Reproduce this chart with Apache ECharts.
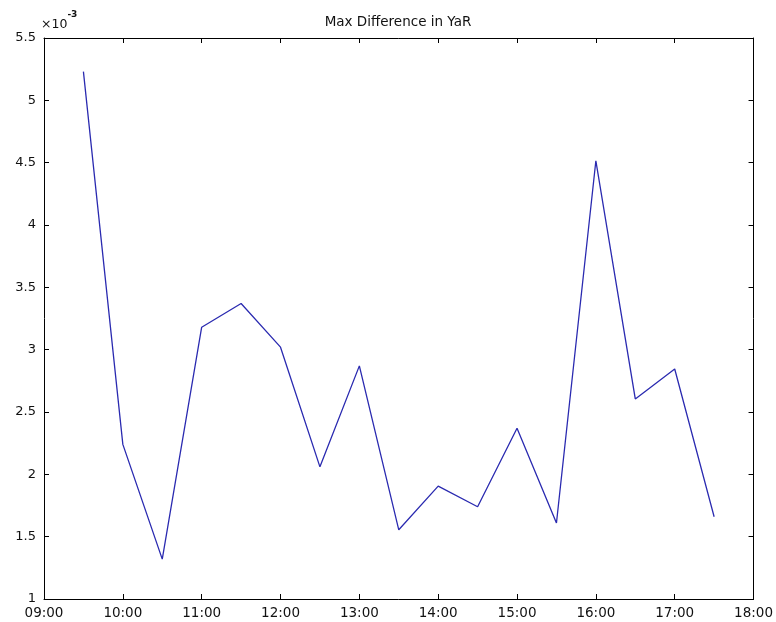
<!DOCTYPE html>
<html>
<head>
<meta charset="utf-8">
<script src="https://cdn.jsdelivr.net/npm/echarts@6/dist/echarts.min.js"></script>
<style>html,body{margin:0;padding:0;background:#fff;}#chart{width:776px;height:622px;}</style>
</head>
<body>
<div id="chart"></div>
<script>
const times = ["09:30","10:00","10:30","11:00","11:30","12:00","12:30","13:00","13:30","14:00","14:30","15:00","15:30","16:00","16:30","17:00","17:30"];
const maxDiff = [5.23,2.24,1.32,3.18,3.37,3.02,2.06,2.87,1.555,1.905,1.74,2.37,1.61,4.515,2.605,2.845,1.66];
const xTickLabels = ["09:00","10:00","11:00","12:00","13:00","14:00","15:00","16:00","17:00","18:00"];
const yTickLabels = ["1","1.5","2","2.5","3","3.5","4","4.5","5","5.5"];
const titleText = "Max Difference in YaR";

function toHours(s){const p=s.split(":");return +p[0]+ (+p[1])/60;}
const xMin = toHours(xTickLabels[0]), xMax = toHours(xTickLabels[xTickLabels.length-1]);
const yMin = +yTickLabels[0], yMax = +yTickLabels[yTickLabels.length-1];
const data = times.map((t,i)=>[toHours(t), maxDiff[i]]);

const font = '"DejaVu Sans", Arial, sans-serif';
const axisLine = {show:true, lineStyle:{color:'#000', width:1}};
const axisTick = {show:true, inside:true, length:5, lineStyle:{color:'#000', width:1}};

const chart = echarts.init(document.getElementById('chart'), null, {renderer:'canvas'});
chart.setOption({
  animation:false,
  backgroundColor:'#fff',
  title:{text:titleText, left:393, top:10, textAlign:'center',
    textStyle:{fontFamily:font, fontSize:13.5, fontWeight:'normal', color:'#111'}},
  grid:{left:44, right:21, top:38, bottom:23, containLabel:false},
  xAxis:[{
    type:'value', min:xMin, max:xMax, interval:1, position:'bottom',
    axisLine, axisTick, splitLine:{show:false},
    axisLabel:{margin:7, fontFamily:font, fontSize:13.5, color:'#111',
      formatter:v=>xTickLabels[Math.round(v-xMin)]}
  },{
    type:'value', min:xMin, max:xMax, interval:1, position:'top',
    axisLine, axisTick, splitLine:{show:false}, axisLabel:{show:false}
  }],
  yAxis:[{
    type:'value', min:yMin, max:yMax, interval:0.5, position:'left',
    axisLine, axisTick, splitLine:{show:false},
    axisLabel:{margin:8, fontFamily:font, fontSize:13, color:'#111',
      formatter:v=>yTickLabels[Math.round((v-yMin)/0.5)]}
  },{
    type:'value', min:yMin, max:yMax, interval:0.5, position:'right',
    axisLine, axisTick, splitLine:{show:false}, axisLabel:{show:false}
  }],
  graphic:[{
    type:'text', left:41, top:10,
    style:{
      text:'{a|×10}{b|-3}',
      rich:{
        a:{fontFamily:font, fontSize:12.5, fill:'#111', verticalAlign:'bottom', padding:[8,0,0,0]},
        b:{fontFamily:font, fontSize:9, fontWeight:'bold', fill:'#111', verticalAlign:'top'}
      }
    }
  }],
  series:[{
    type:'line', data, showSymbol:false, symbol:'none',
    lineStyle:{color:'#2a2ab0', width:1.3}
  }]
});
</script>
</body>
</html>
